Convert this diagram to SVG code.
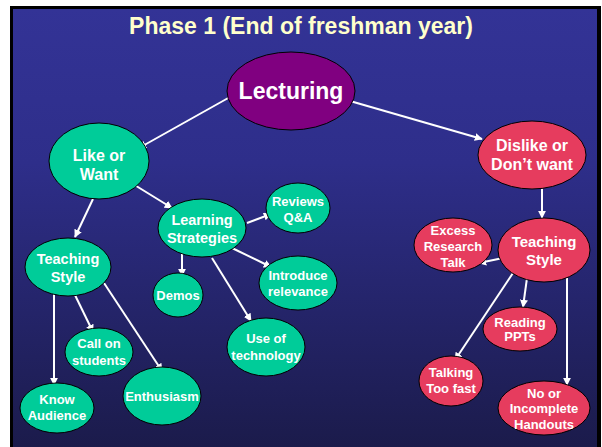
<svg xmlns="http://www.w3.org/2000/svg" width="602" height="447" viewBox="0 0 602 447">
<defs>
<linearGradient id="bg" x1="0" y1="0" x2="0" y2="1">
<stop offset="0" stop-color="#333396"/>
<stop offset="0.35" stop-color="#2e2e8a"/>
<stop offset="1" stop-color="#1b1b4b"/>
</linearGradient>
<marker id="ah" viewBox="0 0 10 10" refX="9" refY="5" markerWidth="4" markerHeight="4" orient="auto" markerUnits="strokeWidth">
<path d="M0,0 L10,5 L0,10 z" fill="#ffffff"/>
</marker>
<style>
.t{font-family:"Liberation Sans",Arial,sans-serif;font-weight:bold;fill:#ffffff;text-anchor:middle}
.g{fill:#00cc99;stroke:#000;stroke-width:1}
.r{fill:#e63c5e;stroke:#000;stroke-width:1}
.p{fill:#800080;stroke:#000;stroke-width:1}
.c line{stroke:#ffffff;stroke-width:2;marker-end:url(#ah)}
.s{font-size:13px}
.m{font-size:14.5px}
</style>
</defs>
<rect x="0" y="0" width="602" height="447" fill="#ffffff"/>
<rect x="10" y="6" width="591" height="441" fill="#000000"/>
<rect x="13" y="9" width="584" height="438" fill="url(#bg)"/>
<text class="t" x="301" y="34" style="font-size:23px;fill:#ffffcc">Phase 1 (End of freshman year)</text>

<g class="c" id="connectors">
<line x1="230" y1="97" x2="139" y2="148"/>
<line x1="350" y1="101" x2="482" y2="139"/>
<line x1="133" y1="184" x2="172" y2="208"/>
<line x1="93" y1="199" x2="75" y2="237"/>
<line x1="247" y1="223" x2="271" y2="214"/>
<line x1="182" y1="253" x2="182" y2="276"/>
<line x1="232" y1="248" x2="271" y2="267"/>
<line x1="212" y1="258" x2="251" y2="321"/>
<line x1="74" y1="293" x2="93" y2="332"/>
<line x1="104" y1="283" x2="162" y2="371"/>
<line x1="54" y1="288" x2="54" y2="385"/>
<line x1="542" y1="189" x2="542" y2="218"/>
<line x1="503" y1="258" x2="479" y2="263"/>
<line x1="527" y1="278" x2="523" y2="307"/>
<line x1="513" y1="273" x2="455" y2="360"/>
<line x1="567" y1="278" x2="567" y2="385"/>
</g>

<g id="lecturing">
<ellipse class="p" cx="291" cy="91" rx="64" ry="39"/>
<text class="t" x="291" y="99" style="font-size:23px">Lecturing</text>
</g>
<g id="like">
<ellipse class="g" cx="99" cy="161" rx="50" ry="38"/>
<text class="t" x="99" y="161" style="font-size:16px">Like or</text>
<text class="t" x="99" y="180" style="font-size:16px">Want</text>
</g>
<g id="learning">
<ellipse class="g" cx="202" cy="228" rx="44" ry="29"/>
<text class="t m" x="202" y="225">Learning</text>
<text class="t m" x="202" y="243">Strategies</text>
</g>
<g id="reviews">
<ellipse class="g" cx="298" cy="208" rx="32" ry="25"/>
<text class="t s" x="298" y="206">Reviews</text>
<text class="t s" x="298" y="222">Q&amp;A</text>
</g>
<g id="teachingL">
<ellipse class="g" cx="68" cy="267" rx="43" ry="29"/>
<text class="t m" x="68" y="264">Teaching</text>
<text class="t m" x="68" y="282">Style</text>
</g>
<g id="demos">
<ellipse class="g" cx="178" cy="295" rx="25" ry="22"/>
<text class="t s" x="178" y="300">Demos</text>
</g>
<g id="introduce">
<ellipse class="g" cx="298" cy="283" rx="39" ry="27"/>
<text class="t s" x="298" y="280">Introduce</text>
<text class="t s" x="298" y="296">relevance</text>
</g>
<g id="usetech">
<ellipse class="g" cx="266" cy="347" rx="39" ry="29"/>
<text class="t s" x="266" y="343">Use of</text>
<text class="t s" x="266" y="360">technology</text>
</g>
<g id="callon">
<ellipse class="g" cx="99" cy="352" rx="34" ry="24"/>
<text class="t s" x="99" y="348">Call on</text>
<text class="t s" x="99" y="365">students</text>
</g>
<g id="enthusiasm">
<ellipse class="g" cx="162" cy="396" rx="39" ry="29"/>
<text class="t s" x="162" y="401">Enthusiasm</text>
</g>
<g id="know">
<ellipse class="g" cx="57" cy="408" rx="37" ry="25"/>
<text class="t s" x="57" y="404">Know</text>
<text class="t s" x="57" y="420">Audience</text>
</g>

<g id="dislike">
<ellipse class="r" cx="532" cy="155" rx="54" ry="34"/>
<text class="t" x="532" y="151" style="font-size:16px">Dislike or</text>
<text class="t" x="532" y="170" style="font-size:16px">Don’t want</text>
</g>
<g id="teachingR">
<ellipse class="r" cx="544" cy="250" rx="46" ry="32"/>
<text class="t" x="544" y="247" style="font-size:15px">Teaching</text>
<text class="t" x="544" y="265" style="font-size:15px">Style</text>
</g>
<g id="excess">
<ellipse class="r" cx="453" cy="245" rx="39" ry="27"/>
<text class="t s" x="453" y="235">Excess</text>
<text class="t s" x="453" y="251">Research</text>
<text class="t s" x="453" y="267">Talk</text>
</g>
<g id="reading">
<ellipse class="r" cx="520" cy="329" rx="37" ry="22"/>
<text class="t s" x="520" y="327">Reading</text>
<text class="t s" x="520" y="341">PPTs</text>
</g>
<g id="talking">
<ellipse class="r" cx="451" cy="381" rx="32" ry="25"/>
<text class="t s" x="451" y="377">Talking</text>
<text class="t s" x="451" y="393">Too fast</text>
</g>
<g id="handouts">
<ellipse class="r" cx="544" cy="408" rx="46" ry="27"/>
<text class="t s" x="544" y="398">No or</text>
<text class="t s" x="544" y="413">Incomplete</text>
<text class="t s" x="544" y="429">Handouts</text>
</g>
</svg>
